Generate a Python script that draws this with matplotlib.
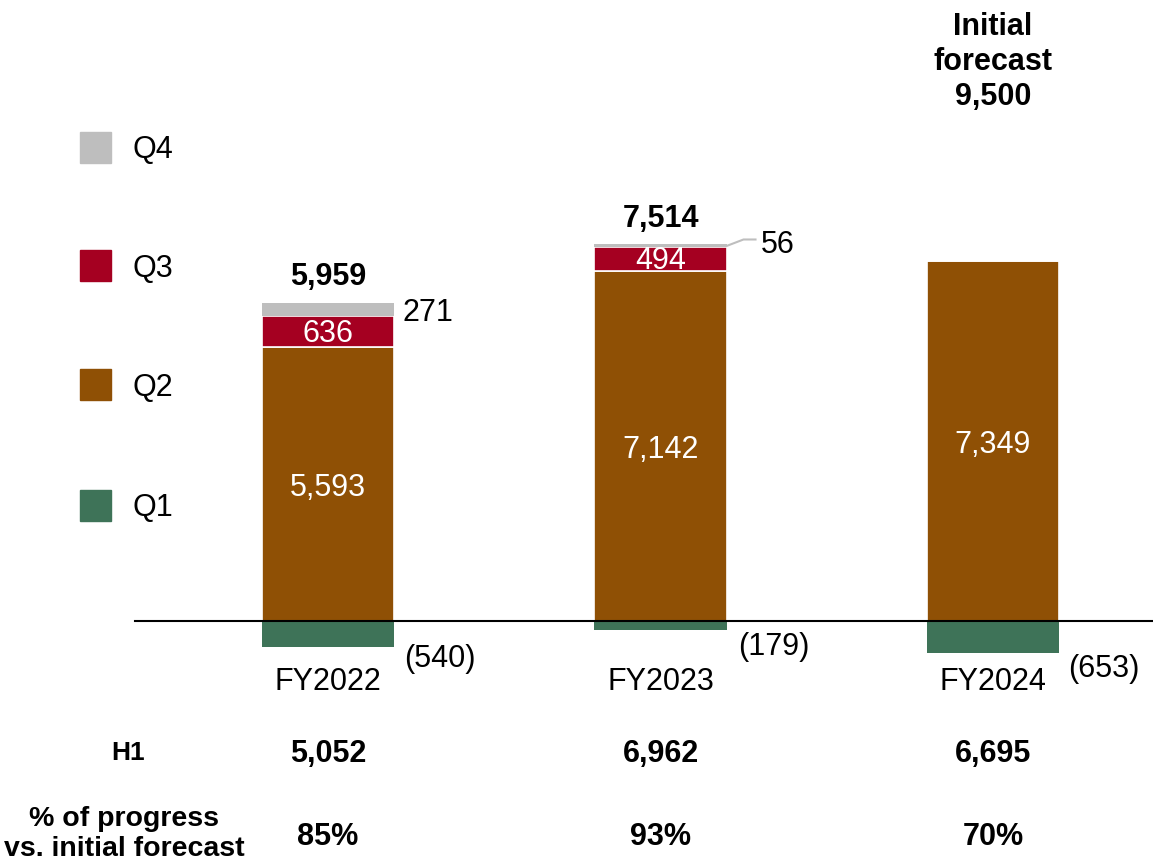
import numpy as np
import matplotlib
matplotlib.use("Agg")
import matplotlib.pyplot as plt
from matplotlib.patches import Rectangle

plt.rcParams['font.family'] = ['Liberation Sans', 'DejaVu Sans']

# quarterly figures per fiscal year
years = ['FY2022', 'FY2023', 'FY2024']
q1 = [-540, -179, -653]
q2 = [5593, 7142, 7349]
q3 = [636, 494, 0]
q4 = [271, 56, 0]
totals = [5959, 7514, None]
h1 = ['5,052', '6,962', '6,695']
progress = ['85%', '93%', '70%']
forecast = 9500

c_q1 = '#3e7358'
c_q2 = '#8f5005'
c_q3 = '#a50021'
c_q4 = '#bebebe'

W, H = 1153, 863
fig = plt.figure(figsize=(W / 100, H / 100), dpi=100)
ax = fig.add_axes([0, 0, 1, 1])
ax.axis('off')

# axes limits chosen so bar centres/zero line sit where wanted
upp = 20.43          # value units per pixel
step = 332.5         # pixels between bar centres
ax.set_xlim(-328 / step, (W - 328) / step)
ax.set_ylim(-(H - 621) * upp, 621 * upp)

def py(p):  # pixel row -> data y
    return (621 - p) * upp

x = np.arange(len(years))
bw = 0.397
fs = 22
dy = -4 * upp        # nudge text down a little

ax.bar(x, q1, bw, color=c_q1, zorder=2)
ax.bar(x, q2, bw, color=c_q2, edgecolor='white', linewidth=1.2, zorder=2)
b3 = np.array(q2)
ax.bar(x, q3, bw, bottom=b3, color=c_q3, edgecolor='white', linewidth=1.2, zorder=2)
b4 = b3 + np.array(q3)
ax.bar(x, q4, bw, bottom=b4, color=c_q4, zorder=2)

ax.axhline(0, xmin=135 / W, xmax=1, color='black', lw=1.5, zorder=3)

for i in x:
    ax.text(i, q2[i] / 2 + dy, f'{q2[i]:,}', color='white', fontsize=fs,
            ha='center', va='center', zorder=4)
    if q3[i]:
        ax.text(i, q2[i] + q3[i] / 2 + dy / 2, f'{q3[i]:,}', color='white', fontsize=fs,
                ha='center', va='center', zorder=4)
    if totals[i]:
        ax.text(i, b4[i] + q4[i] + 600 + dy, f'{totals[i]:,}', fontsize=fs,
                fontweight='bold', ha='center', va='center')
    ax.text(i, py(678) + dy, years[i], fontsize=fs, ha='center', va='center')
    ax.text(i, py(750) + dy, h1[i], fontsize=fs, fontweight='bold', ha='center', va='center')
    ax.text(i, py(833) + dy, progress[i], fontsize=fs, fontweight='bold', ha='center', va='center')

# Q1 labels beside the bars
q1_rows = [655, 643, 665]
q1_dx = [10, 12, 9]
for i in x:
    ax.text(i + bw / 2 + q1_dx[i] / step, py(q1_rows[i]) + dy, f'({-q1[i]:,})',
            fontsize=fs, ha='left', va='center')

# Q4 labels
ax.text(0 + bw / 2 + 8 / step, b4[0] + q4[0] / 2 + dy, f'{q4[0]:,}', fontsize=fs,
        ha='left', va='center')
top1 = b4[1] + q4[1]
ax.plot([1 + bw / 2, 1 + bw / 2 + 17 / step, 1 + bw / 2 + 29 / step],
        [top1 - 1.5 * upp, top1 + 5 * upp, top1 + 5 * upp], color=c_q4, lw=1.5)
ax.text(1 + bw / 2 + 34 / step, top1 + 3 * upp + dy, f'{q4[1]:,}', fontsize=fs,
        ha='left', va='center')

ax.text(2, py(58) + dy, f'Initial\nforecast\n{forecast:,}', fontsize=fs,
        fontweight='bold', ha='center', va='center', linespacing=1.2)

# legend
leg = [('Q4', c_q4, 147), ('Q3', c_q3, 266), ('Q2', c_q2, 385), ('Q1', c_q1, 505)]
for name, col, row in leg:
    fig.patches.append(Rectangle((80 / W, 1 - (row + 15.5) / H), 31 / W, 31 / H,
                                 transform=fig.transFigure, color=col))
    fig.text(133 / W, 1 - (row + 3) / H, name, fontsize=fs, ha='left', va='center')

fig.text(128 / W, 1 - 753 / H, 'H1', fontsize=19, fontweight='bold',
         ha='center', va='center')
fig.text(124 / W, 1 - 834 / H, '% of progress\nvs. initial forecast', fontsize=20.5,
         fontweight='bold', ha='center', va='center', linespacing=1.2)

fig.savefig('out.png', dpi=100)
